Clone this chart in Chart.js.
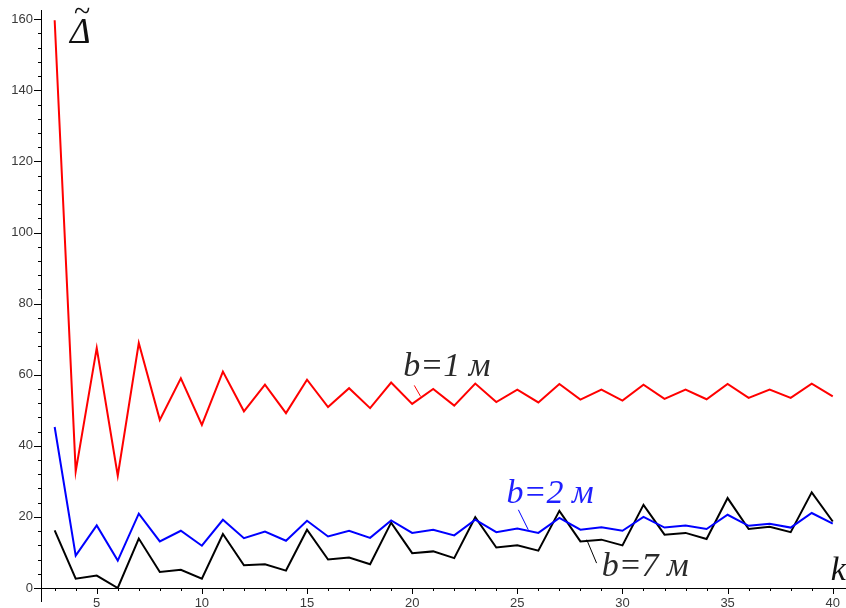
<!DOCTYPE html>
<html>
<head>
<meta charset="utf-8">
<script src="https://cdn.jsdelivr.net/npm/chart.js@4"></script>
<style>
  html, body { margin: 0; padding: 0; background: #fff; }
  #wrap { width: 846px; height: 608px; }
</style>
</head>
<body>
<div id="wrap"><canvas id="deltaChart" width="846" height="608"></canvas></div>
<script>
// k values on the horizontal axis
const kValues = [3, 4, 5, 6, 7, 8, 9, 10, 11, 12, 13, 14, 15, 16, 17, 18, 19, 20, 21,
  22, 23, 24, 25, 26, 27, 28, 29, 30, 31, 32, 33, 34, 35, 36, 37, 38, 39, 40];

// b = 1 m
const deltaB1 = [159.7, 32.8, 67.5, 31.6, 68.9, 47.3, 59.0, 45.9, 60.9, 49.7, 57.2, 49.2,
  58.6, 50.9, 56.2, 50.6, 57.8, 51.8, 56.0, 51.3, 57.5, 52.3, 55.8, 52.2, 57.4, 53.0,
  55.8, 52.7, 57.2, 53.2, 55.8, 53.1, 57.4, 53.5, 55.8, 53.5, 57.5, 53.9];

// b = 2 m
const deltaB2 = [45.3, 9.1, 17.6, 7.7, 20.9, 13.1, 16.1, 11.9, 19.2, 14.0, 15.9, 13.3,
  18.9, 14.5, 16.1, 14.1, 19.0, 15.5, 16.4, 14.8, 19.2, 15.7, 16.7, 15.5, 19.7, 16.4,
  17.1, 16.1, 20.0, 17.0, 17.6, 16.6, 20.6, 17.5, 18.1, 17.0, 21.1, 18.1];

// b = 7 m
const deltaB7 = [16.2, 2.6, 3.5, 0, 13.9, 4.5, 5.1, 2.6, 15.2, 6.4, 6.7, 4.9,
  16.4, 8.0, 8.6, 6.7, 18.4, 9.8, 10.3, 8.4, 19.9, 11.4, 12.0, 10.5, 21.7, 13.1,
  13.6, 12.0, 23.4, 15.0, 15.5, 13.8, 25.3, 16.6, 17.2, 15.7, 26.9, 18.7];

// axis ranges
const kMin = 2.35, kMax = 40.63;
const yMin = 0, yMax = 162.6;

// text labels placed in data coordinates (k, value at baseline)
const curveLabels = [
  { text: 'b=1 м', k: 19.58, v: 59.5, color: '#2a2a2a' },
  { text: 'b=2 м', k: 24.49, v: 23.9, color: '#1f1fff' },
  { text: 'b=7 м', k: 29.01, v: 3.3, color: '#2a2a2a' },
];
const leaderLines = [
  { from: [20.10, 57.0], to: [20.40, 53.9], color: '#ff0000' },
  { from: [25.05, 22.0], to: [25.52, 16.4], color: '#0000ff' },
  { from: [28.30, 13.6], to: [28.77, 7.0], color: '#000000' },
];

const toPoints = arr => arr.map((v, i) => ({ x: kValues[i], y: v }));

const axisDecor = {
  id: 'axisDecor',
  afterDraw(chart) {
    const { ctx, chartArea, scales } = chart;
    const xs = scales.x, ys = scales.y;
    ctx.save();
    ctx.strokeStyle = '#000';
    ctx.lineWidth = 1;
    // tick marks, major longer than minor
    ctx.beginPath();
    xs.ticks.forEach(t => {
      const px = Math.round(xs.getPixelForValue(t.value)) + 0.5;
      const len = t.value % 5 === 0 ? 6 : 3;
      ctx.moveTo(px, chartArea.bottom);
      ctx.lineTo(px, chartArea.bottom + len);
    });
    ys.ticks.forEach(t => {
      const py = Math.round(ys.getPixelForValue(t.value)) + 0.5;
      const len = t.value % 20 === 0 ? 7 : 3;
      ctx.moveTo(chartArea.left, py);
      ctx.lineTo(chartArea.left - len, py);
    });
    // y axis continues a little below the k axis
    ctx.moveTo(chartArea.left + 0.5, chartArea.bottom);
    ctx.lineTo(chartArea.left + 0.5, chartArea.bottom + 14);
    ctx.stroke();

    // leader lines from labels to curves
    leaderLines.forEach(l => {
      ctx.beginPath();
      ctx.strokeStyle = l.color;
      ctx.moveTo(xs.getPixelForValue(l.from[0]), ys.getPixelForValue(l.from[1]));
      ctx.lineTo(xs.getPixelForValue(l.to[0]), ys.getPixelForValue(l.to[1]));
      ctx.stroke();
    });

    // curve labels, italic serif
    ctx.textBaseline = 'alphabetic';
    ctx.textAlign = 'left';
    const serif = '"Liberation Serif", "Times New Roman", serif';
    ctx.font = 'italic 34px ' + serif;
    curveLabels.forEach(l => {
      ctx.fillStyle = l.color;
      ctx.fillText(l.text, xs.getPixelForValue(l.k), ys.getPixelForValue(l.v));
    });

    // axis names
    ctx.fillStyle = '#111';
    ctx.fillText('k', xs.getPixelForValue(39.9), ys.getPixelForValue(2.3));

    const dx = xs.getPixelForValue(3.73), dy = ys.getPixelForValue(153.3);
    ctx.font = 'italic 35px ' + serif;
    ctx.fillText('Δ', dx, dy);
    ctx.font = '30px ' + serif;
    ctx.fillText('~', dx + 4, dy - 22);
    ctx.restore();
  }
};

const ctx = document.getElementById('deltaChart').getContext('2d');
new Chart(ctx, {
  type: 'line',
  data: {
    datasets: [
      { label: 'b=1 м', data: toPoints(deltaB1), borderColor: '#ff0000' },
      { label: 'b=2 м', data: toPoints(deltaB2), borderColor: '#0000ff' },
      { label: 'b=7 м', data: toPoints(deltaB7), borderColor: '#000000' },
    ],
  },
  options: {
    responsive: false,
    animation: false,
    layout: { padding: { top: 10, right: 0, left: 0, bottom: 0 } },
    elements: {
      line: { borderWidth: 2, tension: 0, fill: false },
      point: { radius: 0 },
    },
    plugins: { legend: { display: false }, tooltip: { enabled: false } },
    scales: {
      x: {
        type: 'linear',
        min: kMin,
        max: kMax,
        afterFit: s => { s.height = 20; },
        border: { display: true, color: '#000', width: 1 },
        grid: { drawOnChartArea: false, tickLength: 6, tickColor: 'transparent' },
        ticks: {
          stepSize: 1,
          includeBounds: false,
          autoSkip: false,
          maxRotation: 0,
          maxTicksLimit: 100,
          padding: 2,
          color: '#3a3a3a',
          font: { family: '"Liberation Sans", Arial, sans-serif', size: 13 },
          callback: v => (v % 5 === 0 ? String(v) : ''),
        },
      },
      y: {
        type: 'linear',
        min: yMin,
        max: yMax,
        afterFit: s => { s.width = 41; },
        border: { display: true, color: '#000', width: 1 },
        grid: { drawOnChartArea: false, tickLength: 7, tickColor: 'transparent' },
        ticks: {
          stepSize: 4,
          includeBounds: false,
          autoSkip: false,
          maxTicksLimit: 100,
          padding: 1,
          color: '#3a3a3a',
          font: { family: '"Liberation Sans", Arial, sans-serif', size: 13 },
          callback: v => (v % 20 === 0 ? String(v) : ''),
        },
      },
    },
  },
  plugins: [axisDecor],
});
</script>
</body>
</html>
